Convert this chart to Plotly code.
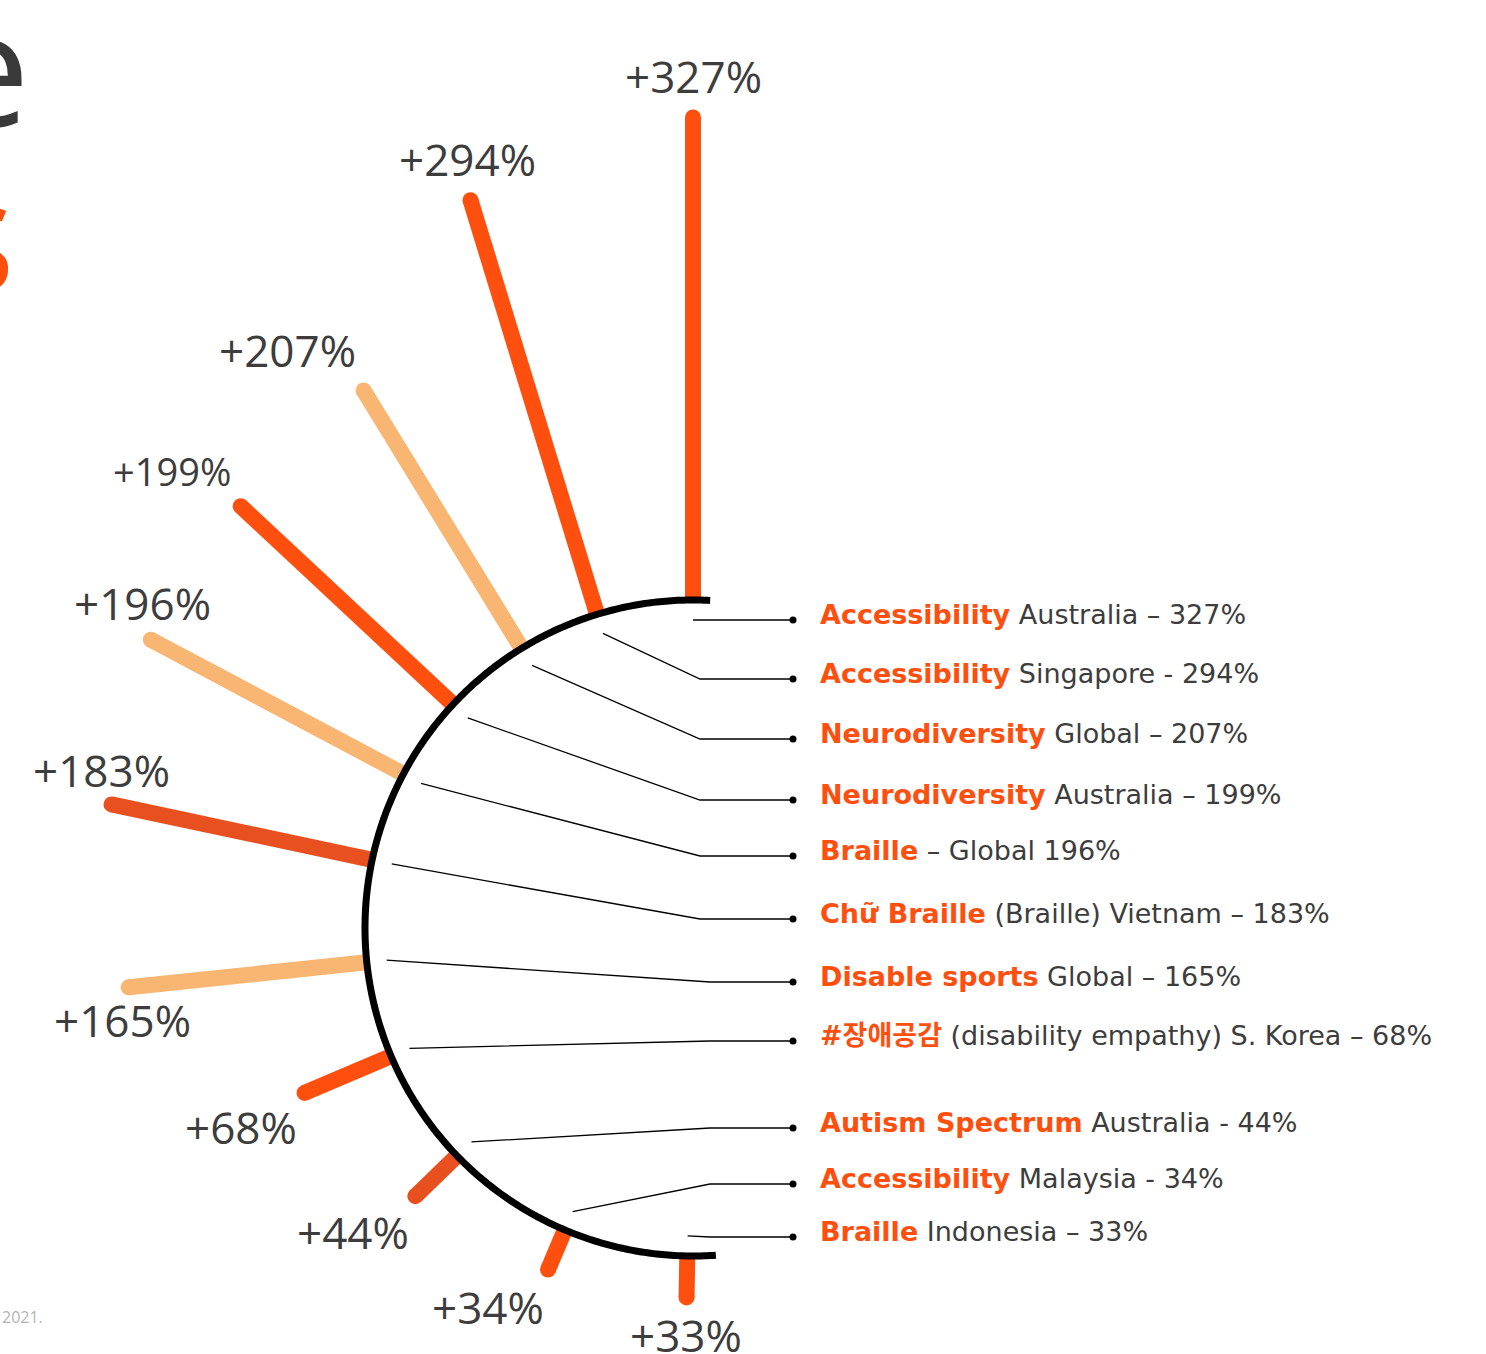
import numpy as np
import plotly.graph_objects as go

# Growth in conversation volume per disability-related topic (%)
topics = [
    "Accessibility", "Accessibility", "Neurodiversity", "Neurodiversity", "Braille",
    "Chữ Braille", "Disable sports", "#장애공감", "Autism Spectrum", "Accessibility", "Braille",
]
growth_pct = [327, 294, 207, 199, 196, 183, 165, 68, 44, 34, 33]
label_templates = [
    "{t} Australia – {v}%",
    "{t} Singapore - {v}%",
    "{t} Global – {v}%",
    "{t} Australia – {v}%",
    "{t} – Global {v}%",
    "{t} (Braille) Vietnam – {v}%",
    "{t} Global – {v}%",
    "{t} (disability empathy) S. Korea – {v}%",
    "{t} Australia - {v}%",
    "{t} Malaysia - {v}%",
    "{t} Indonesia – {v}%",
]

# ---- geometry (axis units == screen pixels) ----
W, H = 1486, 1354
HUB_X, HUB_Y = 693, 928
HUB_R = 328
PX_PER_PCT = 1.5
BAR_W = 16
LEADER_R = 308
DOT_X = 793
TEXT_X = 818
spoke_deg = [90, 107, 121.5, 137, 152, 168, 186, 203, 224, 247, 269]
row_y = [620, 679, 739, 800, 856, 919, 982, 1041, 1128, 1184, 1237]
elbow_x = [700] * 6 + [710] * 5
# where each value label sits relative to its spoke tip
label_anchor = [
    ("center", "bottom"), ("center", "bottom"), ("right", "bottom"), ("right", "bottom"),
    ("center", "bottom"), ("center", "bottom"), ("center", "top"), ("right", "top"),
    ("right", "top"), ("right", "top"), ("center", "top"),
]
label_size = [44, 44, 44, 38, 44, 44, 44, 44, 44, 44, 44]
PAD_ABOVE = 2     # gap for labels sitting above/beside a tip
PAD_BELOW = -2    # labels hanging below a tip (line box already adds air)

# ---- styling ----
BRIGHT = "#FF4F0F"
MID = "#E8511F"
LIGHT = "#F9B572"
INK = "#3d3d3d"
bar_colors = [BRIGHT, BRIGHT, LIGHT, BRIGHT, LIGHT, MID, LIGHT, BRIGHT, MID, BRIGHT, BRIGHT]
VALUE_FAMILY = "Open Sans, Noto Sans, sans-serif"
ROW_FONT = dict(family="DejaVu Sans, Noto Sans CJK KR, sans-serif", size=27, color=INK)


def polar_xy(r, deg):
    t = np.radians(deg)
    return HUB_X + r * np.cos(t), HUB_Y - r * np.sin(t)


fig = go.Figure()

# spokes: one bar per topic, length proportional to growth, rounded outer cap
for v, deg, col in zip(growth_pct, spoke_deg, bar_colors):
    r_end = HUB_R + v * PX_PER_PCT - BAR_W / 2
    x0, y0 = polar_xy(HUB_R, deg)
    x1, y1 = polar_xy(r_end, deg)
    fig.add_trace(go.Scatter(x=[x0, x1], y=[y0, y1], mode="lines",
                             line=dict(color=col, width=BAR_W), hoverinfo="skip"))
    fig.add_trace(go.Scatter(x=[x1], y=[y1], mode="markers",
                             marker=dict(color=col, size=BAR_W, line_width=0), hoverinfo="skip"))

# hub arc
arc_deg = np.linspace(87, 274, 360)
arc_x, arc_y = polar_xy(HUB_R, arc_deg)
fig.add_trace(go.Scatter(x=arc_x, y=arc_y, mode="lines",
                         line=dict(color="black", width=7, simplify=False), hoverinfo="skip"))

# leader lines from each spoke to its legend row
for deg, ry, ex in zip(spoke_deg, row_y, elbow_x):
    sx, sy = polar_xy(LEADER_R, deg)
    fig.add_trace(go.Scatter(x=[sx, ex, DOT_X], y=[sy, ry, ry], mode="lines",
                             line=dict(color="black", width=1.3), hoverinfo="skip"))
fig.add_trace(go.Scatter(x=[DOT_X] * len(row_y), y=row_y, mode="markers",
                         marker=dict(color="black", size=7), hoverinfo="skip"))

annotations = []

# value labels just beyond each spoke tip
for v, deg, (xa, ya), fs in zip(growth_pct, spoke_deg, label_anchor, label_size):
    pad = PAD_BELOW if ya == "top" else PAD_ABOVE
    tx, ty = polar_xy(HUB_R + v * PX_PER_PCT + pad, deg)
    annotations.append(dict(x=tx, y=ty, xref="x", yref="y", text=f"+{v}%",
                            showarrow=False, xanchor=xa, yanchor=ya,
                            font=dict(family=VALUE_FAMILY, size=fs, color=INK)))

# legend rows
for topic, tpl, v, ry in zip(topics, label_templates, growth_pct, row_y):
    head = f"<span style='color:{BRIGHT}'><b>{topic}</b></span>"
    annotations.append(dict(x=TEXT_X, y=ry - 6, xref="x", yref="y",
                            text=tpl.format(t=head, v=v), showarrow=False,
                            xanchor="left", yanchor="middle", font=ROW_FONT))

# heading fragments and source note at the left edge
annotations.append(dict(x=32, y=64, xref="x", yref="y", text="e", showarrow=False,
                        xanchor="right", yanchor="middle",
                        font=dict(family="Open Sans, sans-serif", size=160, color="#3a3a3a")))
annotations.append(dict(x=17, y=230, xref="x", yref="y", text="s", showarrow=False,
                        xanchor="right", yanchor="middle",
                        font=dict(family="Open Sans, sans-serif", size=160, color=BRIGHT)))
annotations.append(dict(x=0, y=1317, xref="x", yref="y", text="2021.", showarrow=False,
                        xanchor="left", yanchor="middle",
                        font=dict(family="Open Sans, sans-serif", size=16, color="#b4b4b4")))

fig.update_layout(
    width=W, height=H, autosize=False,
    margin=dict(l=0, r=0, t=0, b=0, pad=0),
    paper_bgcolor="white", plot_bgcolor="white",
    showlegend=False, hovermode=False,
    xaxis=dict(range=[0, W], visible=False, fixedrange=True),
    yaxis=dict(range=[H, 0], visible=False, fixedrange=True),
    annotations=annotations,
)

fig.write_html("out.html", config={"displayModeBar": False})
